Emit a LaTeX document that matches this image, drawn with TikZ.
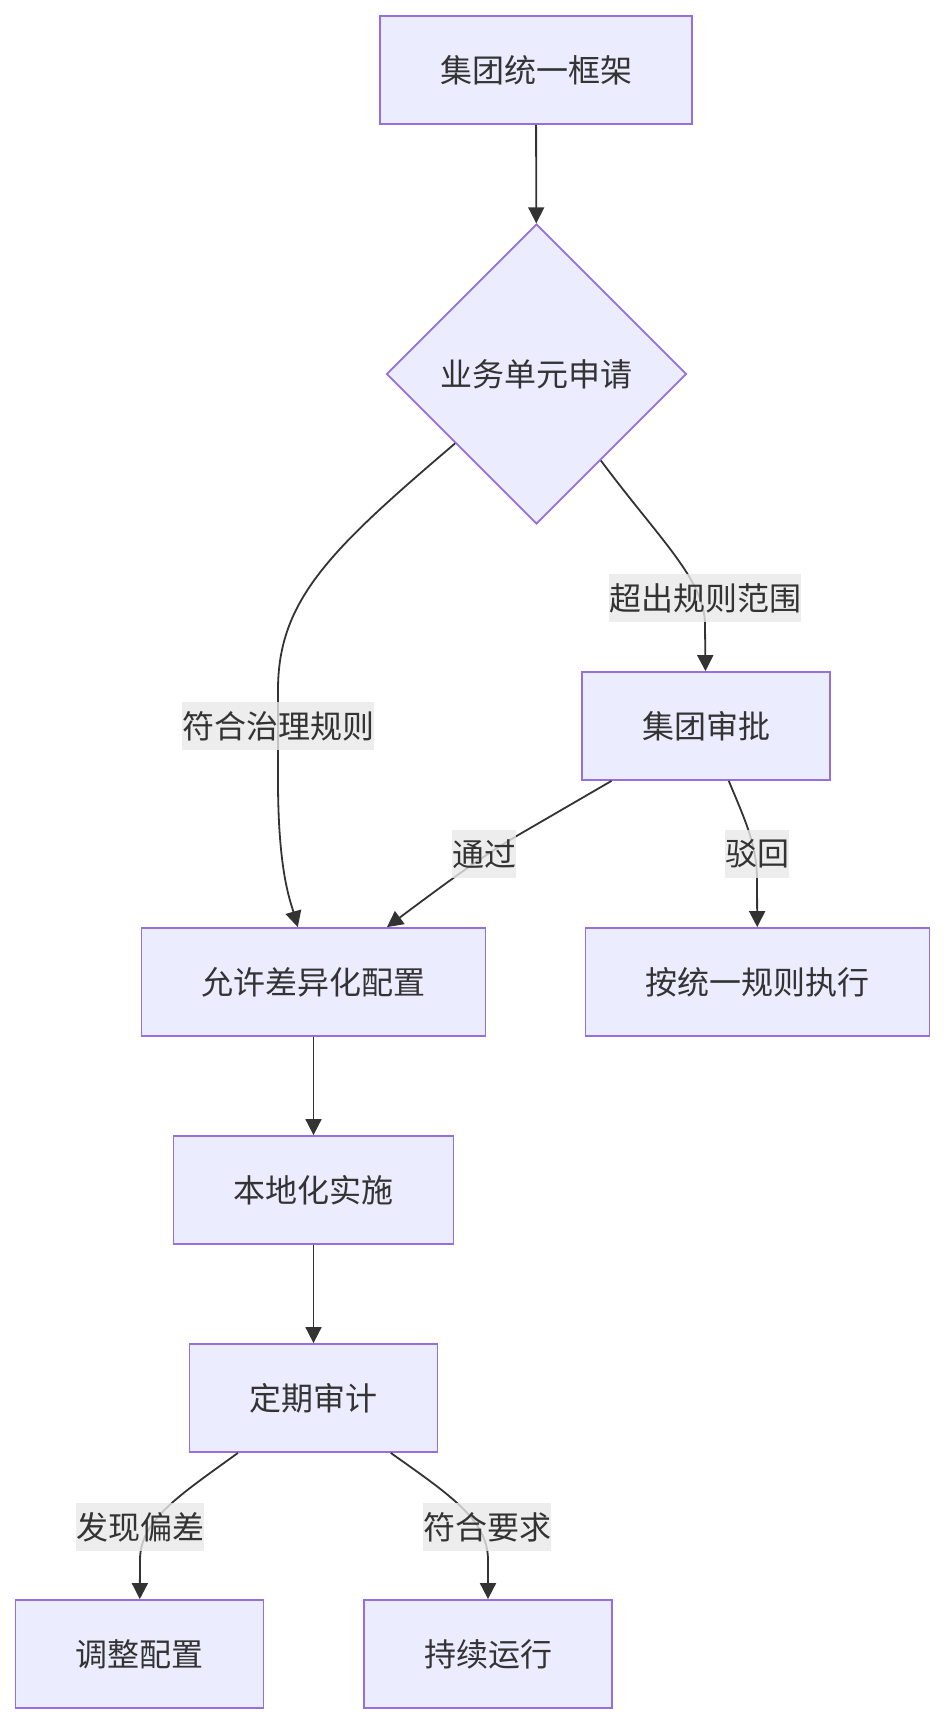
\documentclass[tikz,border=0pt]{standalone}
\usepackage{fontspec}
\setmainfont{Noto Sans CJK SC}
\usetikzlibrary{shapes.geometric,arrows.meta}
\definecolor{boxfill}{HTML}{ECECFF}
\definecolor{boxline}{HTML}{9370DB}
\definecolor{inkgray}{HTML}{333333}
\definecolor{labelgray}{HTML}{E8E8E8}
\newcommand{\flowfont}{\fontsize{16pt}{19pt}\selectfont}

\begin{document}
\begin{tikzpicture}[x=0.5pt,y=-0.5pt,
  box/.style={draw=boxline,fill=boxfill,line width=0.9pt,text=inkgray,font=\flowfont,
    inner xsep=30pt,minimum height=54pt},
  choice/.style={diamond,aspect=1,draw=boxline,fill=boxfill,line width=0.9pt,text=inkgray,
    font=\flowfont,minimum width=150pt,minimum height=150pt,inner sep=0pt},
  flow/.style={draw=inkgray,line width=0.9pt,-{Triangle[length=8pt,width=8pt]}},
  tag/.style={fill=labelgray,fill opacity=0.8,text opacity=1,text=inkgray,font=\flowfont,
    inner xsep=0pt,inner ysep=0pt,minimum height=24pt}]
  \useasboundingbox (0,0) rectangle (946,1724);
  % nodes
  \node[box] (top) at (536,70) {集团统一框架};
  \node[choice] (apply) at (536.5,374) {业务单元申请};
  \node[box] (approve) at (706,726) {集团审批};
  \node[box] (allow) at (313.5,982) {允许差异化配置};
  \node[box] (unify) at (757.5,982) {按统一规则执行};
  \node[box] (local) at (313.5,1190) {本地化实施};
  \node[box] (audit) at (313.5,1398) {定期审计};
  \node[box] (adjust) at (139.5,1654) {调整配置};
  \node[box] (run) at (488,1654) {持续运行};
  % connectors
  \draw[flow] (top) -- (apply);
  \draw[flow] (apply) .. controls (330,550) and (278,600) .. (278,690)
    -- (278,780) .. controls (278,870) and (290,900) .. (allow);
  \draw[flow] (apply) .. controls (660,540) and (705,580) .. (705,625) -- (approve);
  \draw[flow] (approve) -- (520,834) .. controls (484,855) and (450,880) .. (allow);
  \draw[flow] (approve) .. controls (745,820) and (757,845) .. (757,880) -- (unify);
  \draw[flow] (allow) -- (local);
  \draw[flow] (local) -- (audit);
  \draw[flow] (audit) .. controls (180,1495) and (140,1520) .. (140,1560) -- (adjust);
  \draw[flow] (audit) .. controls (450,1495) and (488,1520) .. (488,1560) -- (run);
  % labels
  \node[tag] (tagrule) at (278,726) {符合治理规则};
  \node[tag] (tagover) at (705,598) {超出规则范围};
  \node[tag] (tagpass) at (484,854) {通过};
  \node[tag] (tagback) at (757,854) {驳回};
  \node[tag] (tagdev) at (140,1527) {发现偏差};
  \node[tag] (tagok) at (487,1527) {符合要求};
\end{tikzpicture}
\end{document}
